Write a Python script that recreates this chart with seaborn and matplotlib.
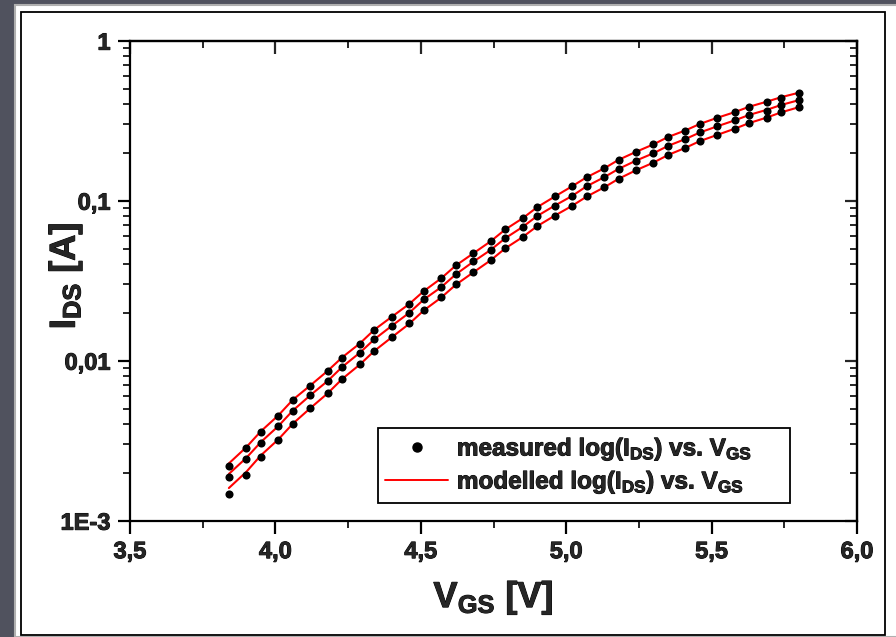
import numpy as np
import pandas as pd
import matplotlib
matplotlib.use('Agg')
import matplotlib.pyplot as plt
import matplotlib.ticker as mticker
import matplotlib.patheffects as pe
from matplotlib.patches import Rectangle
from matplotlib.lines import Line2D
import seaborn as sns

# ---------------- data ----------------
vgs = [3.84, 3.90, 3.95, 4.01, 4.06, 4.12, 4.18, 4.23, 4.29, 4.34, 4.40, 4.46,
       4.51, 4.57, 4.62, 4.68, 4.74, 4.79, 4.85, 4.90, 4.96, 5.02, 5.07, 5.13,
       5.18, 5.24, 5.30, 5.35, 5.41, 5.46, 5.52, 5.58, 5.63, 5.69, 5.74, 5.80]

meas_top = [2.20e-3, 2.85e-3, 3.58e-3, 4.51e-3, 5.68e-3, 6.95e-3, 8.62e-3, 1.04e-2,
            1.27e-2, 1.56e-2, 1.88e-2, 2.26e-2, 2.73e-2, 3.29e-2, 3.96e-2, 4.71e-2,
            5.60e-2, 6.65e-2, 7.80e-2, 9.13e-2, 0.107, 0.124, 0.141, 0.160,
            0.180, 0.202, 0.226, 0.250, 0.273, 0.302, 0.329, 0.358, 0.385, 0.414, 0.438, 0.471]
meas_mid = [1.88e-3, 2.43e-3, 3.06e-3, 3.91e-3, 4.85e-3, 6.10e-3, 7.46e-3, 9.14e-3,
            1.12e-2, 1.37e-2, 1.65e-2, 1.99e-2, 2.43e-2, 2.89e-2, 3.48e-2, 4.20e-2,
            4.92e-2, 5.85e-2, 6.85e-2, 8.02e-2, 9.27e-2, 0.107, 0.124, 0.141,
            0.158, 0.177, 0.199, 0.220, 0.243, 0.269, 0.293, 0.319, 0.343, 0.364, 0.396, 0.426]
meas_bot = [1.47e-3, 1.93e-3, 2.50e-3, 3.19e-3, 4.02e-3, 5.06e-3, 6.28e-3, 7.69e-3,
            9.53e-3, 1.15e-2, 1.41e-2, 1.72e-2, 2.07e-2, 2.50e-2, 3.02e-2, 3.58e-2,
            4.26e-2, 5.06e-2, 5.93e-2, 6.95e-2, 8.02e-2, 9.27e-2, 0.107, 0.122,
            0.137, 0.156, 0.172, 0.193, 0.214, 0.236, 0.257, 0.281, 0.306, 0.329, 0.358, 0.385]

mod_top = [2.28e-3, 2.88e-3, 3.62e-3, 4.55e-3, 5.70e-3, 7.00e-3, 8.65e-3, 1.05e-2,
           1.28e-2, 1.56e-2, 1.88e-2, 2.26e-2, 2.72e-2, 3.27e-2, 3.93e-2, 4.68e-2,
           5.57e-2, 6.60e-2, 7.76e-2, 9.10e-2, 0.106, 0.123, 0.140, 0.159,
           0.180, 0.202, 0.225, 0.250, 0.275, 0.302, 0.330, 0.358, 0.387, 0.416, 0.444, 0.473]
mod_mid = [1.96e-3, 2.47e-3, 3.10e-3, 3.90e-3, 4.88e-3, 6.08e-3, 7.48e-3, 9.15e-3,
           1.12e-2, 1.36e-2, 1.65e-2, 1.99e-2, 2.41e-2, 2.88e-2, 3.46e-2, 4.15e-2,
           4.92e-2, 5.82e-2, 6.85e-2, 8.02e-2, 9.30e-2, 0.107, 0.123, 0.140,
           0.158, 0.178, 0.198, 0.220, 0.243, 0.267, 0.292, 0.318, 0.344, 0.370, 0.397, 0.425]
mod_bot = [1.60e-3, 2.02e-3, 2.56e-3, 3.22e-3, 4.04e-3, 5.05e-3, 6.26e-3, 7.70e-3,
           9.45e-3, 1.15e-2, 1.40e-2, 1.70e-2, 2.06e-2, 2.48e-2, 2.98e-2, 3.56e-2,
           4.24e-2, 5.03e-2, 5.92e-2, 6.93e-2, 8.05e-2, 9.28e-2, 0.106, 0.121,
           0.137, 0.155, 0.173, 0.193, 0.214, 0.236, 0.258, 0.282, 0.306, 0.331, 0.357, 0.384]

xticks = [3.5, 4.0, 4.5, 5.0, 5.5, 6.0]
xticklabels = ['3,5', '4,0', '4,5', '5,0', '5,5', '6,0']
yticks = [1e-3, 1e-2, 1e-1, 1]
yticklabels = ['1E-3', '0,01', '0,1', '1']

# long tables for seaborn
series = ['a', 'b', 'c']
meas = pd.DataFrame({
    'vgs': vgs * 3,
    'ids': meas_top + meas_mid + meas_bot,
    'curve': np.repeat(series, len(vgs)),
})
mod = pd.DataFrame({
    'vgs': vgs * 3,
    'ids': mod_top + mod_mid + mod_bot,
    'curve': np.repeat(series, len(vgs)),
})

# ---------------- figure ----------------
sns.set_style('ticks')
plt.rcParams['font.family'] = ['Liberation Sans', 'DejaVu Sans']
plt.rcParams['font.weight'] = 'bold'
plt.rcParams['mathtext.default'] = 'regular'

W, H = 896, 637
fig = plt.figure(figsize=(W / 100, H / 100), dpi=100)
fig.patch.set_facecolor('#50525e')

# white sheet + inner frame (screenshot look)
fig.patches.append(Rectangle((15 / W, 0), 1, 1 - 5 / H, transform=fig.transFigure,
                             facecolor='white', edgecolor='#b0b0b0', lw=1.5, zorder=-5))
fig.patches.append(Rectangle((21 / W, 2 / H), (885 - 21) / W, (625 - 2) / H,
                             transform=fig.transFigure, facecolor='none',
                             edgecolor='black', lw=1.3, zorder=-4))

ax = fig.add_axes([130 / W, 1 - 520.7 / H, (857 - 130) / W, (520.7 - 40.7) / H])
ax.set_facecolor('white')

sns.lineplot(data=mod, x='vgs', y='ids', units='curve', estimator=None,
             color='#ff0000', lw=1.5, ax=ax, legend=False, zorder=2)
sns.scatterplot(data=meas, x='vgs', y='ids', color='black', s=34,
                edgecolor='black', linewidth=0, ax=ax, legend=False, zorder=3)

ax.set_yscale('log')
ax.set_xlim(3.5, 6.0)
ax.set_ylim(1e-3, 1)

ax.set_xticks(xticks)
ax.set_xticklabels(xticklabels, fontsize=17, fontweight='bold')
ax.xaxis.set_minor_locator(mticker.MultipleLocator(0.25))
ax.set_yticks(yticks)
ax.set_yticklabels(yticklabels, fontsize=17, fontweight='bold')
ax.yaxis.set_minor_locator(mticker.LogLocator(base=10, subs=np.arange(2, 10)))
ax.yaxis.set_minor_formatter(mticker.NullFormatter())

for s in ax.spines.values():
    s.set_linewidth(1.6)
    s.set_color('black')

ax.tick_params(axis='both', which='major', direction='out', length=9, width=1.6,
               pad=5, color='black')
ax.tick_params(axis='both', which='minor', direction='out', length=5, width=1.4)

# mirrored ticks pointing inwards on top/right
top = ax.secondary_xaxis('top')
top.set_xticks(xticks)
top.xaxis.set_minor_locator(mticker.MultipleLocator(0.25))
top.tick_params(which='major', direction='in', length=9, width=1.6, labeltop=False)
top.tick_params(which='minor', direction='in', length=5, width=1.4)
right = ax.secondary_yaxis('right')
right.set_yticks(yticks)
right.yaxis.set_minor_locator(mticker.LogLocator(base=10, subs=np.arange(2, 10)))
right.yaxis.set_minor_formatter(mticker.NullFormatter())
right.tick_params(which='major', direction='in', length=9, width=1.6, labelright=False)
right.tick_params(which='minor', direction='in', length=5, width=1.4)
for sec in (top, right):
    for s in sec.spines.values():
        s.set_linewidth(1.6)

ax.set_xlabel('V$_{GS}$ [V]', fontsize=26, fontweight='bold')
ax.set_ylabel('I$_{DS}$ [A]', fontsize=26, fontweight='bold')
ax.xaxis.set_label_coords(0.5, -0.12)
ax.yaxis.set_label_coords(-0.062, 0.51)

handles = [
    Line2D([], [], ls='none', marker='o', color='black', markersize=6.5),
    Line2D([], [], color='#ff0000', lw=1.4),
]
labels = ['measured log(I$_{DS}$) vs. V$_{GS}$', 'modelled log(I$_{DS}$) vs. V$_{GS}$']
leg = ax.legend(handles, labels, loc='lower left',
                bbox_to_anchor=(0.341, 0.037, 0.567, 0.15), mode='expand',
                frameon=True, fancybox=False, edgecolor='black', framealpha=1,
                prop={'size': 17.5, 'weight': 'bold'}, handlelength=2.6,
                borderpad=0.3, labelspacing=0.25, handletextpad=0.35,
                borderaxespad=0)
leg.get_frame().set_linewidth(1.3)

# heavier strokes, like the original export
heavy = [pe.withStroke(linewidth=0.7, foreground='black')]
for t in (ax.get_xticklabels() + ax.get_yticklabels() + leg.get_texts()
          + [ax.xaxis.label, ax.yaxis.label]):
    t.set_path_effects(heavy)

fig.savefig('out.png', dpi=100, facecolor=fig.get_facecolor())
